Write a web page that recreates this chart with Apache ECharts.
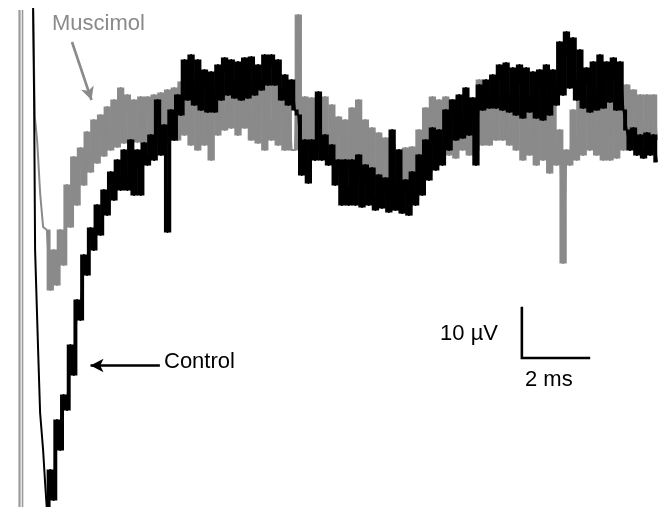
<!DOCTYPE html>
<html>
<head>
<meta charset="utf-8">
<script src="https://cdn.jsdelivr.net/npm/echarts@6/dist/echarts.min.js"></script>
<style>
html,body{margin:0;padding:0;background:#fff;}
#chart{width:667px;height:507px;}
</style>
</head>
<body>
<div id="chart"></div>
<script>
// ---- Data (time in ms, potential in µV) ----
const sampleStartMs = 0.8;
const sampleStepMs = 0.1;

// fast stimulus-artifact descent, read point by point
const controlOnset = [[0.388, 24.4], [0.418, 6], [0.447, -24], [0.537, -44], [0.597, -56.6], [0.686, -64], [0.746, -70.6]];
const muscimolOnset = [[0.388, 24], [0.44, 2.6], [0.507, -2], [0.597, -12.6], [0.686, -19.4]];

// evenly sampled noisy traces from 0.8 ms, step 0.1 ms
const controlTrace = [
 -76,-68,-74,-58,-64,-53,-56,-43,-49,-34,
 -38,-25,-29,-19.6,-24,-15,-21,-12,-17,-8.4,
 -14,-6,-12,-4,-12,-2,-13,-4,-13,-2.6,
 -7,-1,-6,6,-5,1,-20.4,4,-2,7,
 3,14,6,15,5,14,4,12,3.6,11.6,
 3.6,13,6,14.4,7,14,6.4,13.6,6,14.4,
 6.4,14.6,7,13,8,15,9,15,9,14,
 6,11,5,10,4,3,-9,-2,-10.6,-2,
 -6,7.6,-6,-1,-7,-3,-11,-6,-15,-6,
 -15,-6,-15,-5,-15.4,-7,-15,-7.6,-16,-9,
 -15.6,-9.6,-16.4,0,-16,-4,-16.6,-10,-17,-8.4,
 -15,-5,-13,-2,-10,0.4,-8,0,-7,4,
 -4,6,-2,7,-1.6,8.4,-1,6.4,-7,9,
 4,10,4.4,11,4.4,13,4,13.4,3.6,12.4,
 3,13,2.4,12.4,3.6,11.6,2.4,12,2,13,
 3,12,5,17.6,7,19.6,8.4,18.4,6,16,
 4.4,12.4,3.6,13.6,4,15,4.4,13.6,5.6,14.4,
 4,13.6,4,0,-4,0.4,-5,-1,-5.6,-0.6,
 -5,-1,-6.4
];
const muscimolTrace = [
 -20,-32,-24,-31,-20,-27,-11,-19.4,-5.4,-15,
 -3.6,-11,-0.4,-8.4,2,-6.6,3,-5.2,4.6,-4,
 6,-3.4,8.4,-2.6,7,-2,6,-2.4,6.6,-2.6,
 6.6,-3.6,7,-3,7.4,-2.6,8,-2,8.4,-2,
 9.6,-1,10,-3,10,-4,10.4,-3,10,-6,
 10,-1,10.4,0,10,0.4,10,-1,9.6,0.4,
 9.6,-2,10,-2.6,9,-4,9,-2,9,-3,
 8.4,-4,8,-4,-4,23,-3.4,6.6,-3.4,6.4,
 -4,6,-4,6.6,-5,5,-6,2.6,-7,2,
 -8,4.4,-8.4,6,-9.6,2,-11,0.4,-12.4,-0.6,
 -14,-1.6,-15.4,-3,-16,-4,-16.6,-3.6,-17,-3.4,
 -14,0,-12,4.4,-8.4,6.6,-7,6,-5.6,6.6,
 -5,6,-5.6,6.6,-4,6,-5,6.4,-4,10,
 -3,8,-3,7.6,-2,7.4,-2,7,-3,7,
 -4,7,-6,6.6,-5,6.6,-7,6,-6,6,
 -8.6,5,-7,0,-26.6,-4,-7,4,-6,7,
 -5,7,-4,6.6,-5,7,-6,6,-6,6.6,
 -5.6,7,-4,9,-3,8,-4,7,-3,7,
 -4,7,-2
];

// annotations (data units)
const stimulusMarksMs = [-0.018, 0.072];
const stimulusTopUv = 24;
const scaleBarOrigin = [14.97, -45.6];
const scaleBarMs = 2;
const scaleBarUv = 10;
const controlArrow = [[4.17, -47.1], [2.1, -47.1]];
const muscimolArrow = [[1.548, 17.6], [2.13, 6.0]];

const labels = {
  muscimol: 'Muscimol',
  control: 'Control',
  scaleV: '10 \u00b5V',
  scaleT: '2 ms'
};

// ---- build series data ----
function sampled(trace) {
  return trace.map((v, i) => [+(sampleStartMs + i * sampleStepMs).toFixed(3), v]);
}
const controlData = sampled(controlTrace);
const muscimolData = sampled(muscimolTrace);
const controlOnsetData = controlOnset.concat([controlData[0]]);
const muscimolOnsetData = muscimolOnset.concat([muscimolData[0]]);

// each segment between two successive samples, drawn as the span it sweeps
function segmentItems(data) {
  const out = [];
  for (let i = 0; i + 1 < data.length; i++) {
    out.push([data[i][0], data[i][1], data[i + 1][0], data[i + 1][1]]);
  }
  return out;
}

const GRAY = '#8a8a8a';
const FONT = "'Liberation Sans', Arial, Helvetica, sans-serif";

function traceSeries(name, data, color, width, z) {
  return {
    name: name, type: 'line', showSymbol: false, animation: false, silent: true, z: z,
    data: data,
    lineStyle: { color: color, width: width, join: 'round' }
  };
}
function sweepSeries(data, color, z) {
  return {
    type: 'custom', silent: true, animation: false, clip: true, z: z,
    data: segmentItems(data),
    encode: { x: [0, 2], y: [1, 3] },
    renderItem: function (params, api) {
      const a = api.coord([api.value(0), api.value(1)]);
      const b = api.coord([api.value(2), api.value(3)]);
      const x0 = Math.min(a[0], b[0]);
      const w = Math.abs(b[0] - a[0]);
      const y0 = Math.min(a[1], b[1]);
      const h = Math.abs(b[1] - a[1]);
      return {
        type: 'rect',
        shape: { x: x0 - 0.3, y: y0 - 0.5, width: w + 0.6, height: h + 1 },
        style: { fill: color }
      };
    }
  };
}

const series = [];
stimulusMarksMs.forEach((t, i) => {
  series.push({
    type: 'line', silent: true, showSymbol: false, animation: false, z: 1,
    data: [[t, stimulusTopUv], [t, -90]],
    lineStyle: { color: '#9a9a9a', width: i === 0 ? 2.2 : 1.6 }
  });
});
series.push(traceSeries('Muscimol', muscimolOnsetData, GRAY, 2, 3));
series.push(sweepSeries(muscimolData, GRAY, 2));
series.push(traceSeries('Muscimol', muscimolData, GRAY, 2, 3));
series.push(traceSeries('Control', controlOnsetData, '#000', 2, 5));
series.push(sweepSeries(controlData, '#000', 4));
series.push(traceSeries('Control', controlData, '#000', 2, 5));
// scale bar
series.push({
  type: 'line', showSymbol: false, animation: false, silent: true, z: 6,
  data: [
    [scaleBarOrigin[0], scaleBarOrigin[1] + scaleBarUv],
    [scaleBarOrigin[0], scaleBarOrigin[1]],
    [scaleBarOrigin[0] + scaleBarMs, scaleBarOrigin[1]]
  ],
  lineStyle: { color: '#000', width: 2.6, join: 'miter', cap: 'square' }
});
// arrows
function arrowSeries(pts, color) {
  return {
    type: 'line', data: [], silent: true, animation: false, z: 6,
    markLine: {
      silent: true, animation: false,
      symbol: ['none', 'arrow'], symbolSize: [10, 13],
      label: { show: false },
      lineStyle: { color: color, width: 2.6, type: 'solid' },
      data: [[{ coord: pts[0] }, { coord: pts[1] }]]
    }
  };
}
series.push(arrowSeries(controlArrow, '#000'));
series.push(arrowSeries(muscimolArrow, GRAY));

const chart = echarts.init(document.getElementById('chart'), null, { renderer: 'canvas' });
chart.setOption({
  animation: false,
  backgroundColor: '#fff',
  grid: { left: 0, right: 0, top: 0, bottom: 0 },
  xAxis: { type: 'value', min: -0.6, max: 19.3, show: false },
  yAxis: { type: 'value', min: -75.4, max: 26, show: false },
  series: series,
  graphic: [
    { type: 'text', left: 52, top: 13, style: { text: labels.muscimol, font: '22px ' + FONT, fill: GRAY } },
    { type: 'text', left: 164, top: 351, style: { text: labels.control, font: '22px ' + FONT, fill: '#000' } },
    { type: 'text', right: 169, top: 323, style: { text: labels.scaleV, font: '22px ' + FONT, fill: '#000' } },
    { type: 'text', left: 525, top: 369, style: { text: labels.scaleT, font: '22px ' + FONT, fill: '#000' } }
  ]
});
</script>
</body>
</html>
